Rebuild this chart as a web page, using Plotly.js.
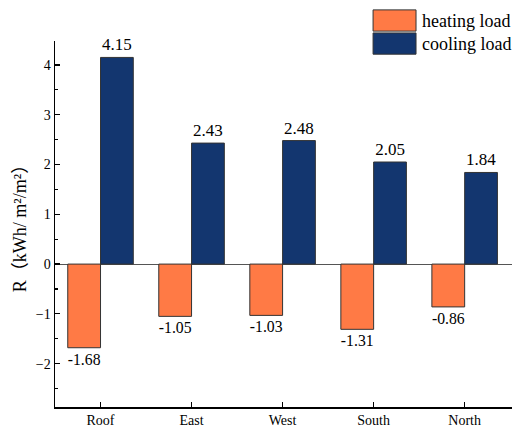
<!DOCTYPE html>
<html><head><meta charset="utf-8">
<script src="https://cdn.plot.ly/plotly-3.0.1.min.js"></script>
<style>body{margin:0;background:#fff}#c{width:517px;height:432px}</style>
</head><body><div id="c"></div>
<script>
var categories = ["Roof","East","West","South","North"];
var heating = [-1.68,-1.05,-1.03,-1.31,-0.86];
var cooling = [4.15,2.43,2.48,2.05,1.84];
var seriesNames = ["heating load","cooling load"];
var colors = ["#FF7A45","#13366F"];
var fontF = "'Liberation Serif', 'Noto Sans CJK SC', serif";
function fmt(v){return v.toFixed(2);}
var traces = [heating, cooling].map(function(vals,i){
  return {type:"bar", x:categories, y:vals, name:seriesNames[i],
    marker:{color:colors[i], line:{color:"#333", width:1}},
    text:vals.map(fmt), textposition:"outside", cliponaxis:false,
    textfont:{family:fontF,size:17,color:"#000"}, showlegend:false, hoverinfo:"none"};
});
var shapes = [], annotations = [];
var lx0=0.696, lx1=0.790, rows=[[1.027,1.085],[0.964,1.022]];
seriesNames.forEach(function(n,i){
  shapes.push({type:"rect", xref:"paper", yref:"paper", x0:lx0, x1:lx1, y0:rows[i][0], y1:rows[i][1],
    fillcolor:colors[i], line:{color:"#333", width:1}});
  annotations.push({xref:"paper", yref:"paper", x:lx1+0.008, y:(rows[i][0]+rows[i][1])/2,
    xanchor:"left", yanchor:"middle", text:n, showarrow:false,
    font:{family:fontF,size:18,color:"#000"}});
});
var layout = {
  width:517, height:432, margin:{l:55,r:5,t:41,b:25},
  paper_bgcolor:"#fff", plot_bgcolor:"#fff",
  barmode:"group", bargap:0.28, bargroupgap:0,
  font:{family:fontF, color:"#000"},
  xaxis:{range:[-0.5,4.52], showline:true, linecolor:"#000", linewidth:1.5,
    ticks:"inside", ticklen:5, tickcolor:"#000", tickwidth:1.2,
    tickfont:{family:fontF,size:14}, showgrid:false, zeroline:false, fixedrange:true},
  yaxis:{range:[-2.87,4.48], showline:true, linecolor:"#000", linewidth:1.5,
    ticks:"inside", ticklen:5, tickcolor:"#000", tickwidth:1.2, dtick:1, tick0:0,
    minor:{ticks:"inside", ticklen:3, dtick:0.5, tickcolor:"#000", showgrid:false},
    tickfont:{family:fontF,size:14}, showgrid:false,
    zeroline:true, zerolinecolor:"#555", zerolinewidth:1,
    title:{text:"R（kWh/ m²/m²）", font:{family:fontF,size:18}, standoff:4}, fixedrange:true},
  shapes:shapes, annotations:annotations, showlegend:false
};
Plotly.newPlot("c", traces, layout, {displayModeBar:false, staticPlot:true});
</script></body></html>
